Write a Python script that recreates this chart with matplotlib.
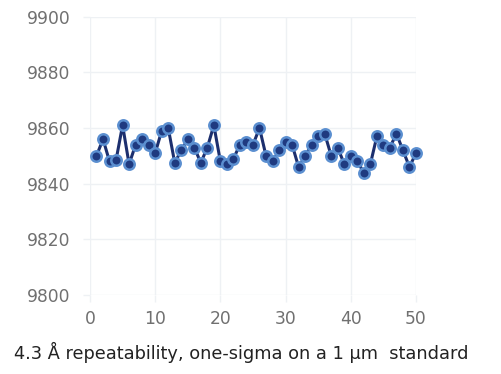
import matplotlib.pyplot as plt

runs = list(range(1, 51))
readings = [9850, 9856, 9848, 9848.5, 9861, 9847, 9854, 9856, 9854, 9851,
            9859, 9860, 9847.5, 9852, 9856, 9853, 9847.5, 9853, 9861, 9848,
            9847, 9849, 9854, 9855, 9854, 9860, 9850, 9848, 9852, 9855,
            9854, 9846, 9850, 9854, 9857, 9858, 9850, 9853, 9847, 9850,
            9848, 9844, 9847, 9857, 9854, 9853, 9858, 9852, 9846, 9851]
y_ticks = [9800, 9820, 9840, 9860, 9880, 9900]
x_ticks = [0, 10, 20, 30, 40, 50]
caption = "4.3 Å repeatability, one-sigma on a 1 µm  standard"

fig = plt.figure(figsize=(5.01, 3.74), dpi=100)
ax = fig.add_axes([0.1796, 0.2112, 0.6507, 0.7441])

ax.plot(runs, readings, color="#1c2f6e", lw=2.2, marker="o", ms=7.5,
        markerfacecolor="#1f3a80", markeredgecolor="#5b8fd0", markeredgewidth=1.8,
        zorder=3, clip_on=False)

ax.set_xlim(0, 50)
ax.set_ylim(9800, 9900)
ax.set_xticks(x_ticks)
ax.set_yticks(y_ticks)
ax.grid(True, color="#eef1f4", lw=1)
for s in ax.spines.values():
    s.set_visible(False)
ax.tick_params(axis="both", colors="#eef1f4", length=5, width=1,
               labelcolor="#707070", labelsize=12.3)
ax.tick_params(axis="y", pad=9)
ax.tick_params(axis="x", pad=6)

fig.text(0.4825, 0.058, caption, ha="center", va="center", fontsize=12.75,
         color="#222222")

fig.savefig("out.png", dpi=100)
